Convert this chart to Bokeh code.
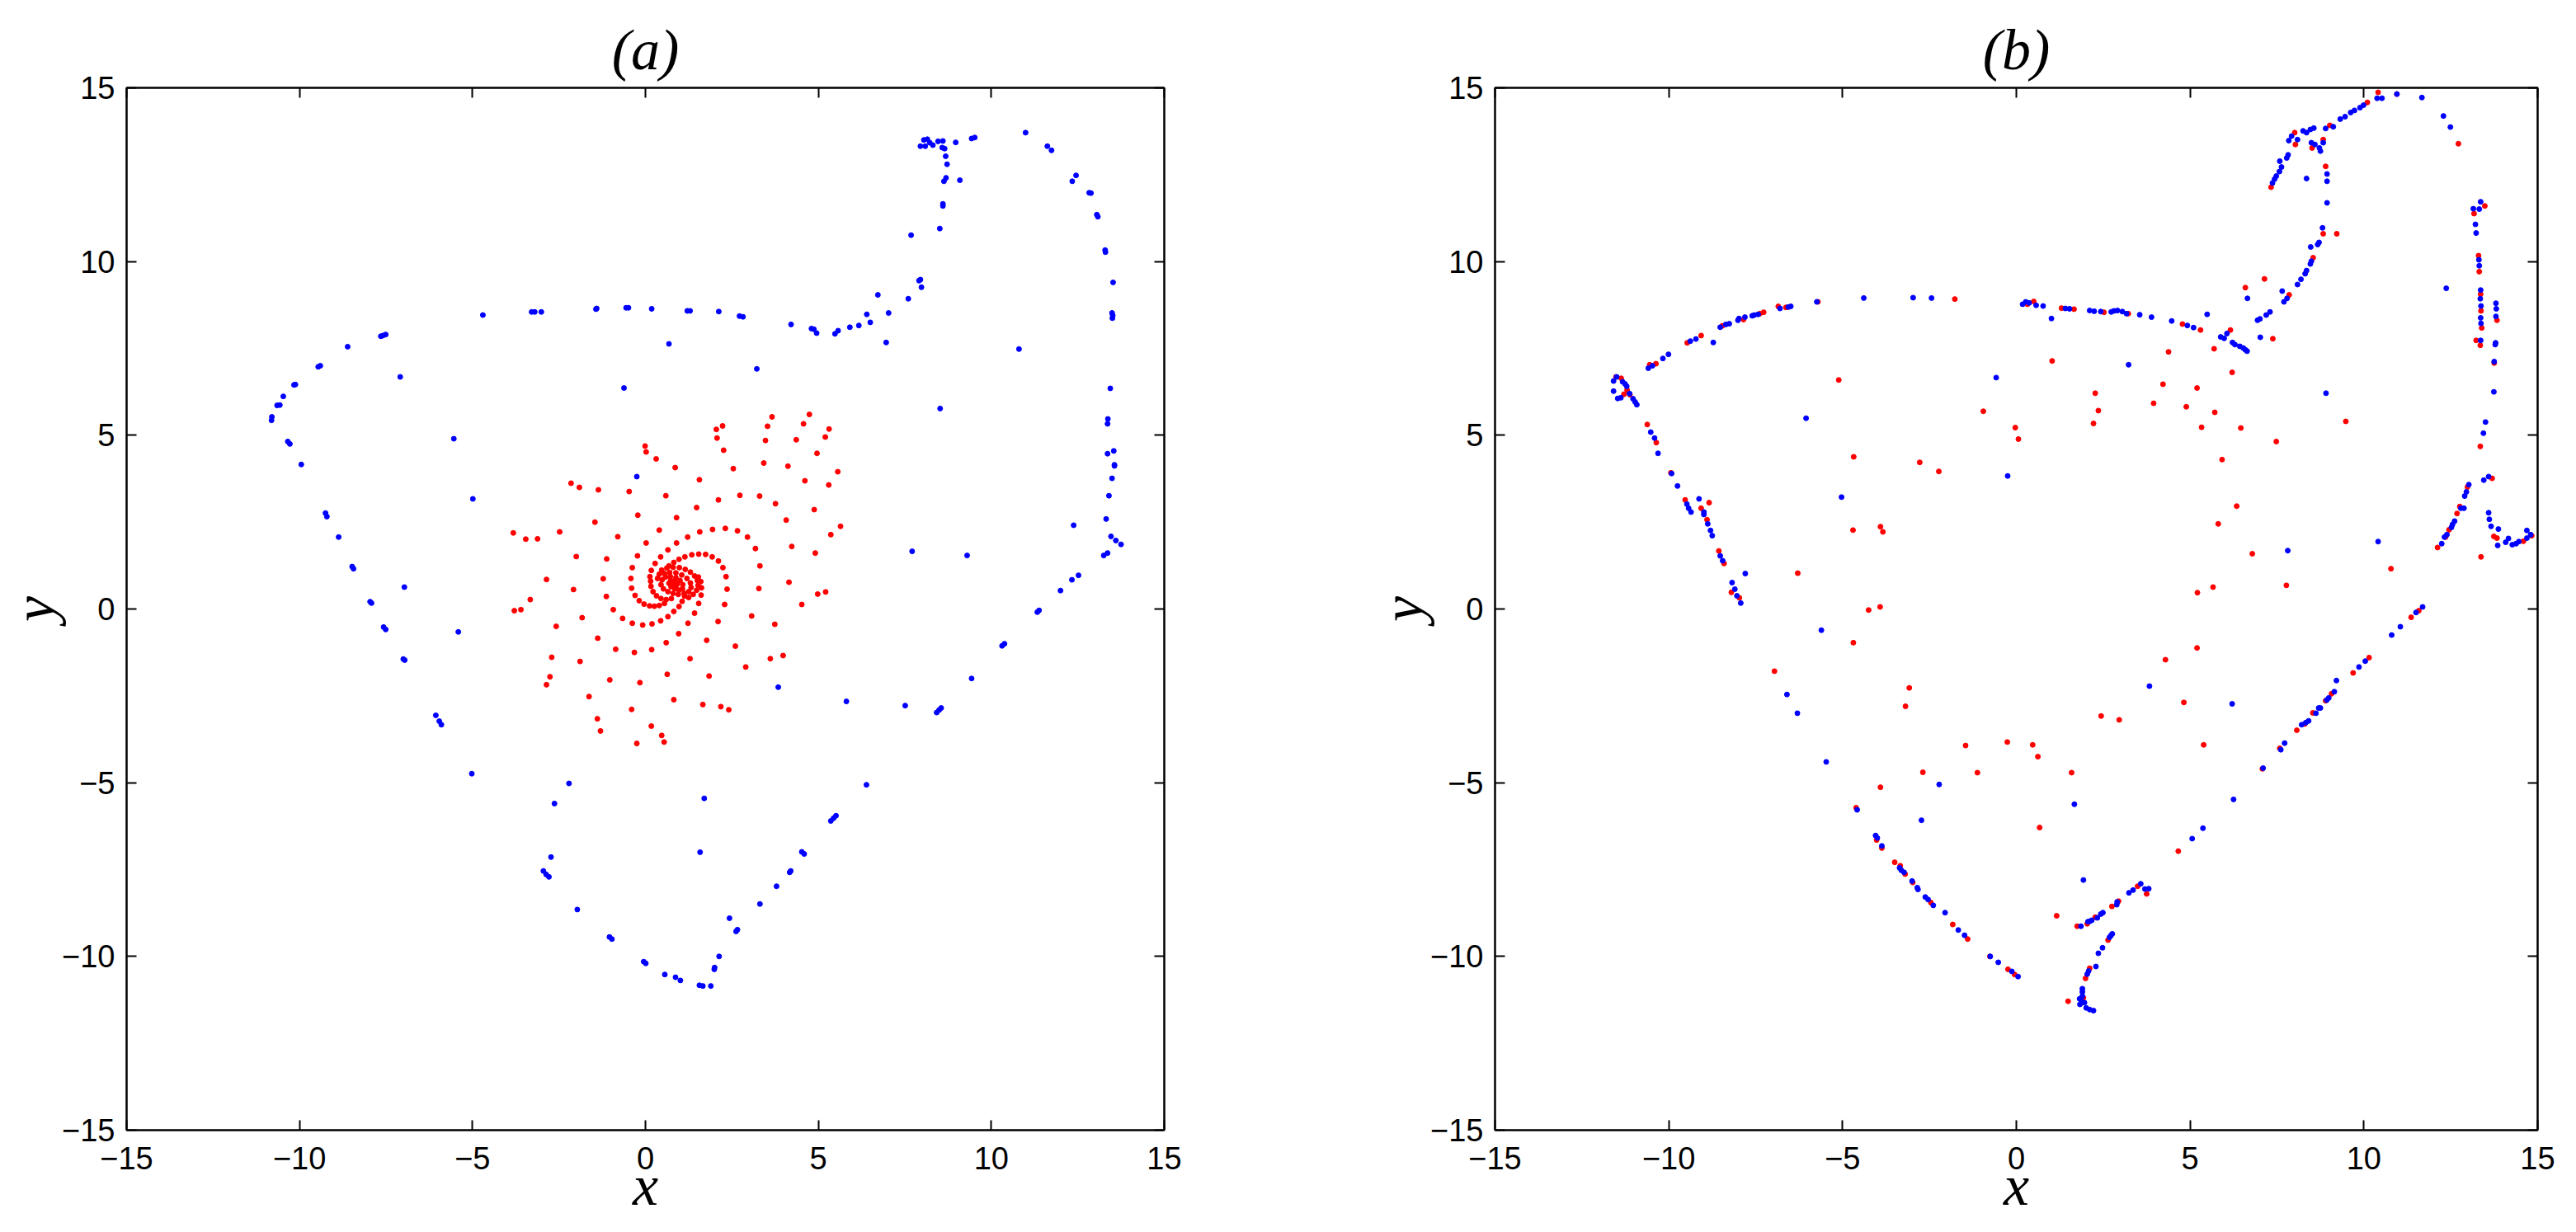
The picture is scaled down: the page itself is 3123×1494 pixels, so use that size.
from bokeh.plotting import figure
from bokeh.layouts import row
from bokeh.models import LinearAxis, FixedTicker
from bokeh.embed import file_html
from bokeh.resources import INLINE

ticks = [-15, -10, -5, 0, 5, 10, 15]
tick_labels = {t: (str(t).replace("-", "\u2212")) for t in ticks}
blank_labels = {t: "" for t in ticks}

# ---------------- panel (a) ----------------
a_blue_x = [-4.70, -3.29, -3.20, -3.01, -1.43, -1.41, -0.56, -0.49, 0.18,
            -7.65, -7.59, -7.51, -8.61, -9.46, -9.40, -10.16, -10.12, -10.47, -10.65, -10.57, -10.80, -10.81,
            -10.34, -10.28, -9.95, -7.09, -5.54, -4.99, -0.62, -0.25, -9.25, -9.21, -8.87, -8.48, -8.44, -6.97,
            -7.96, -7.92,
            -7.57, -7.51, -5.41, -7.00, -6.96, -6.06, -5.96, -5.90, -5.02, -2.21, -2.63, -2.73, -2.95, -2.87,
            -2.79, -1.97, -1.04, -0.97, -0.05, 0.01,
            0.68, 1.21, 1.29, 2.12, 2.72, 2.82, 3.22, 4.21, 4.80, 4.87, 4.95, 5.48, 5.57, 5.91, 6.17, 6.40, 6.50,
            6.72, 6.96, 7.03, 7.60, 7.68, 7.91, 7.95, 7.98, 8.51, 8.60, 8.60, 8.63, 8.69, 9.09, 8.68, 8.72,
            7.95, 8.09, 8.05, 8.15, 8.22, 8.31, 8.46, 8.60, 8.58, 8.65, 8.97, 9.43, 9.52, 10.99, 11.62, 11.74,
            12.45, 12.34, 12.83, 12.88, 13.05, 13.08, 13.29, 13.30, 13.52, 13.49, 13.51, 13.50, 10.80, 13.44,
            8.52, 13.37, 13.36, 13.36, 13.54, 13.56, 13.56, 13.49, 13.40, 13.32, 12.38, 13.46, 13.60, 13.75,
            13.25, 13.36, 7.71, 9.30, 12.52, 12.33, 12.00, 11.33, 11.38,
            10.31, 10.38, 9.43, 8.42, 8.49, 8.55, 7.51, 5.81, 3.84, 6.39, 5.36, 5.44, 5.51, 1.70, 1.58, 4.52,
            4.59, 4.17, 4.20, 3.79, 3.31, 2.43, 2.62, 2.66, 2.13, 1.99, 2.00, 0.56, 0.87, 1.01, 1.56, 1.66, 1.89]
a_blue_y = [8.46, 8.55, 8.55, 8.55, 8.63, 8.65, 8.67, 8.67, 8.64,
            7.85, 7.87, 7.90, 7.55, 6.97, 7.00, 6.45, 6.46, 6.12, 5.86, 5.87, 5.53, 5.43,
            4.82, 4.75, 4.16, 6.68, 4.90, 3.17, 6.36, 3.81, 2.76, 2.66, 2.07, 1.22, 1.16, 0.63,
            0.21, 0.17,
            -0.52, -0.59, -0.66, -1.44, -1.47, -3.06, -3.23, -3.33, -4.74, -5.02, -5.60, -7.14, -7.54, -7.64,
            -7.71, -8.65, -9.44, -9.50, -10.15, -10.20,
            7.63, 8.58, 8.58, 8.56, 8.43, 8.41, 6.91, 8.19, 8.07, 8.05, 7.94, 7.92, 8.01, 8.11, 8.16, 8.48, 8.25,
            9.04, 7.67, 8.52, 8.93, 10.76, 9.45, 9.48, 9.26, 10.95, 11.66, 11.60, 12.31, 12.41, 12.34, 13.03, 12.80,
            13.32, 13.32, 13.50, 13.52, 13.42, 13.35, 13.46, 13.47, 13.28, 13.25, 13.43, 13.54, 13.57, 13.71, 13.32, 13.20,
            12.48, 12.31, 11.98, 11.97, 11.35, 11.29, 10.33, 10.27, 9.40, 8.52, 8.45, 8.37, 7.48, 6.35,
            5.77, 5.47, 5.33, 4.47, 4.55, 4.15, 4.12, 3.76, 3.26, 2.59, 2.41, 2.09, 1.97, 1.86,
            1.54, 1.61, 1.66, 1.54, 0.97, 0.84, 0.53, -0.09, -0.04,
            -1.06, -1.00, -2.00, -2.98, -2.91, -2.85, -2.78, -2.66, -2.25, -5.06, -6.10, -6.02, -5.95, -5.45, -7.00, -6.99,
            -7.05, -7.58, -7.54, -7.98, -8.49, -8.90, -9.28, -9.23, -10.00, -10.37, -10.32, -10.52, -10.60, -10.69, -10.83, -10.85, -10.85]

a_red_x = [-3.82, -3.46, -3.12, -2.48, -2.15, -1.91, -1.36, -1.46, -0.80, -0.47, -0.22, -0.01, 0.02, 0.31, 0.86,
           0.59, 0.90, 0.40, 0.02, -2.00, -1.12, -0.23, -0.38, 0.65, 0.90, 1.22, 1.57, 1.94, 2.31, 2.66, 2.95,
           3.18, 3.31, 1.48, 1.56, 2.11, 2.54, 2.73, 3.30, 3.76, 4.07, 3.42, 4.12, 2.26, 2.05, 2.23, 2.07, 3.66,
           3.53, 3.47, 4.74, 4.57, 4.36, 5.31, 5.20, 4.96, 5.56, 4.61, 5.30, 4.88, 5.64, 5.36, 4.23, 4.91, 0.28,
           0.17, 0.13, -0.42, -1.22, -2.86, 0.44, 0.68, 0.82, 0.97, 1.14, 1.34, 1.54, 1.74, 1.93, 2.11, 2.24, 2.33,
           -2.08, -3.33, -3.79, -3.60, -1.13, -0.93, -1.83, -2.58, -0.40, -0.30, -0.18, -0.04, 0.12, 0.26, 0.40,
           0.55, -0.66, -0.38, -0.08, 0.19, 0.44, 0.65, 0.82, 0.97, 1.06, 1.13, 1.53, 1.60, 1.62, 1.61, 1.54, 1.42,
           1.23, 0.96, 0.60, 0.18, -0.32, -0.86, -1.38, 2.36, 2.29, 2.10, 1.77, 1.29, 0.63, -0.16, -1.03, -1.89,
           -2.71, -2.76, -2.86, -1.63, -1.39, -1.30, -0.40, -0.25, 0.17, 0.47, 0.54, 0.82, 1.66, 2.18, 2.41, 1.84,
           2.90, 2.60, 3.61, 3.98, 3.07, 3.74, 3.28, 4.15, 4.52, 4.98, 5.21,
           0.47, 0.62, 0.80, 0.98, 1.15, 1.30, 1.42, 1.50, 1.52, 1.48, 1.38, 1.25, 0.15, 0.16, 0.22, 0.32, 0.45,
           0.60, 0.75, 0.40, 0.35, 0.55, 0.70, 0.88, 1.05, 1.20, 1.30, 1.32, 1.25, 1.12, 0.95, 0.80, 0.65, 0.52,
           0.45, 0.48, 0.58, 0.72, 0.88, 1.00, 1.08, 1.07, 0.97, 0.85, 0.74, 0.68, 0.73, 0.84, 0.92, 0.88, 0.80]
a_red_y = [2.19, 2.01, 2.02, 2.22, 3.62, 3.50, 3.43, 2.50, 2.08, 3.38, 2.70, 4.69, 4.52, 4.32, 4.07,
           3.26, 2.63, 2.27, 1.90, 1.51, 1.44, 1.53, 1.19, 1.70, 1.90, 2.07, 2.22, 2.29, 2.32, 2.25, 2.07,
           1.74, 1.24, 2.92, 3.72, 3.14, 4.04, 3.27, 3.25, 3.03, 2.56, 4.20, 4.11, 4.57, 5.17, 5.27, 4.92, 5.53,
           5.26, 4.85, 5.60, 5.33, 4.87, 5.18, 4.95, 4.48, 3.95, 3.69, 3.57, 2.86, 2.38, 2.14, 1.80, 1.61, 1.31,
           1.11, 0.93, 0.88, 0.87, 0.85, 1.50, 1.24, 1.34, 1.43, 1.50, 1.56, 1.58, 1.57, 1.50, 1.38, 1.19, 0.93,
           0.56, 0.27, -0.05, -0.02, 0.36, -0.02, -0.25, -0.50, 0.60, 0.39, 0.24, 0.14, 0.09, 0.08, 0.10,
           0.16, -0.27, -0.41, -0.46, -0.43, -0.34, -0.22, -0.07, 0.07, 0.22, 0.37, 0.92, 0.79, 0.61, 0.40, 0.16, -0.12,
           -0.41, -0.71, -0.97, -1.17, -1.25, -1.16, -0.84, 0.57, 0.13, -0.36, -0.90, -1.43, -1.88, -2.12, -2.04, -1.51,
           -1.39, -1.95, -2.18, -2.52, -3.16, -3.51, -2.89, -3.87, -3.37, -3.64, -3.83, -2.61, -2.75, -2.81, -2.90, -1.93,
           -1.67, -1.07, -1.43, -1.34, -0.20, -0.44, 0.59, 0.77, 0.13, 0.43, 0.49,
           1.12, 1.18, 1.20, 1.19, 1.14, 1.06, 0.95, 0.82, 0.68, 0.54, 0.42, 0.33, 0.80, 0.65, 0.50, 0.38, 0.30,
           0.27, 0.30, 1.00, 0.88, 1.02, 1.05, 1.04, 0.98, 0.88, 0.75, 0.62, 0.50, 0.45, 0.42, 0.45, 0.50, 0.58,
           0.70, 0.84, 0.92, 0.93, 0.90, 0.82, 0.70, 0.58, 0.54, 0.58, 0.64, 0.74, 0.82, 0.80, 0.72, 0.65, 0.70]

# ---------------- panel (b) ----------------
b_blue_x = [-4.39, -2.97, -2.44, -5.74, -6.49, -6.56, -6.80, -7.43, -7.54, -7.60, -7.81, -8.01, -7.98, -8.26, -8.36,
            -8.52, -8.72, -9.22, -9.38, -10.01, -10.17, -10.47, -10.59, -11.59, -11.50, -11.59, -11.47, -11.38, -11.33,
            -11.26, -11.21, -11.13, -11.03, -10.97, -10.92, -10.52, -10.41, -10.31, -9.92, -9.75, -9.48, -9.43, -9.36,
            -9.13, -8.99, -8.99, -8.88, -8.80, -8.75, -8.52, -8.45, -8.18, -8.10, -8.04, -7.93, -7.80, -6.05, -5.03,
            0.18, 0.27, 0.37, 0.57, 0.77, 1.01, 1.41, 1.53, 2.11, 2.24, 2.43, 2.73, 2.81, 2.91, 3.05, 3.17, 3.55, 3.89,
            4.47, 4.92, 5.10, 5.49, 5.88, 5.98, 6.06, 6.22, 6.29, 6.43, 6.53, 6.59, 6.64, 6.65, 6.94, 7.01, 7.19, 7.30,
            7.02, 7.65, 7.70, 7.79, 8.09, 8.19, 8.31, 8.35, 8.46, 8.49, 8.47, 8.67, 8.71, 8.81, 8.94, 8.94, 8.94, 8.35,
            7.37, 7.43, 7.48, 7.57, 7.63, 7.58, 7.78, 7.82, 7.84, 7.92, 8.09, 8.25, 8.35, 8.46, 8.56, 8.49, 8.59, 8.72,
            8.75, 8.83, 8.90, 9.12, 9.32, 9.46, 9.62, 9.73, 9.89, 9.99, 10.38, 10.52, 10.95, 11.67, 12.29, 12.49, 13.15,
            13.32, 13.36, 13.21, 13.23, 13.31, 13.32, 13.36, 13.35, 13.37, 13.36, 13.37, 13.36, 13.80, 13.81, 13.80,
            13.79, 13.78, 13.75, 13.74, 12.37, 8.91, 13.50, 13.44, 13.45, 13.59, 13.02, 12.95, 12.90, 12.79, 12.88,
            12.61, 12.55, 12.52, 12.39, 12.32, 12.24, 13.59, 13.61, 13.66, 13.87, 13.85, 14.08, 14.16, 14.27, 14.38,
            14.46, 14.69, 14.69, 14.80, 10.41, 7.81, 3.23, -0.58, -0.25, 11.69, 11.50,
            -5.61, -6.60, -6.30, -5.47, -2.22, -2.73, -4.58, -4.05, -4.00, -3.87, -3.36, -3.31, -3.23, -3.00, -2.85,
            -2.83, -2.62, -2.54, -2.39, -2.05, -1.67, -1.49,
            11.05, 10.80, 10.04, 9.86, 9.21, 9.15, 8.99, 8.93, 8.75, 8.70, 8.62, 8.41, 8.33, 8.21, 7.72, 7.61, 7.10,
            6.21, 6.25, 5.37, 5.06, 3.83, 1.67, 1.93, 3.81, 3.70, 3.58, 3.36, 3.24, 2.89, 2.90, 2.49, 2.43, 2.33, 2.17,
            2.11, 2.06, 1.86, 2.76, 2.72, 2.68, 2.48, 2.36, 2.29, 2.08, 2.04, 1.90, 1.90, 1.90, 1.82, 1.88, 1.83, 1.96,
            2.01, 2.11, 2.22, -0.75, -0.52, -0.13, 0.05]
b_blue_y = [8.95, 8.96, 8.95, 8.84, 8.71, 8.69, 8.65, 8.48, 8.46, 8.44, 8.40, 8.31, 8.36, 8.21, 8.19,
            8.11, 7.67, 7.77, 7.71, 7.33, 7.21, 7.00, 6.93, 6.56, 6.68, 6.27, 6.06, 6.08, 6.54,
            6.48, 6.41, 6.20, 6.05, 5.96, 5.88, 5.09, 4.92, 4.48, 3.90, 3.54, 3.02, 2.90, 2.79,
            3.17, 2.79, 2.72, 2.45, 2.26, 2.11, 1.53, 1.39, 0.76, 0.57, 0.38, 0.17, 1.02, 5.49, 3.22,
            8.77, 8.84, 8.81, 8.74, 8.72, 8.36, 8.65, 8.64, 8.59, 8.57, 8.56, 8.55, 8.58, 8.59, 8.56, 8.50, 8.47, 8.40,
            8.29, 8.16, 8.10, 8.48, 7.83, 7.79, 7.93, 7.67, 7.61, 7.56, 7.51, 7.46, 7.42, 8.94, 8.31, 8.35, 8.46, 8.55,
            7.82, 9.15, 8.84, 8.94, 9.34, 9.49, 9.65, 9.74, 9.93, 10.01, 10.42, 10.49, 10.55, 10.97, 11.69, 12.31, 12.52, 12.39,
            12.26, 12.37, 12.46, 12.59, 12.72, 12.89, 12.98, 13.07, 13.48, 13.61, 13.51, 13.76, 13.71, 13.80, 13.84, 13.42, 13.37, 13.27,
            13.18, 13.42, 13.83, 13.88, 14.10, 14.17, 14.29, 14.35, 14.43, 14.50, 14.70, 14.70, 14.82, 14.72, 14.19, 13.87, 11.52,
            11.51, 11.72, 11.07, 10.82, 10.05, 9.88, 9.18, 8.93, 8.72, 8.38, 8.22, 7.73, 8.80, 8.64, 8.42,
            7.66, 7.61, 7.12, 6.25, 9.23, 6.21, 5.38, 5.06, 3.71, 3.81, 3.58, 3.37, 3.25, 2.90, 2.90,
            2.53, 2.43, 2.35, 2.14, 2.07, 1.88, 2.77, 2.58, 2.38, 2.30, 1.83, 1.92, 2.03, 1.85, 1.88,
            1.94, 2.04, 2.26, 2.14, 1.94, 1.68, 7.03, 6.66, 3.83, 0.06, -0.10,
            -0.61, -2.46, -3.00, -4.40, -5.05, -6.08, -5.78, -6.52, -6.59, -6.82, -7.45, -7.52, -7.58, -7.83, -8.02,
            -8.07, -8.29, -8.36, -8.53, -8.74, -9.24, -9.39,
            -0.51, -0.75, -1.50, -1.67, -2.06, -2.38, -2.56, -2.62, -2.85, -2.85, -3.00, -3.22, -3.27, -3.33, -3.86, -4.05, -4.58,
            -2.73, -5.48, -6.31, -6.61, -2.22, -5.62, -7.80, -8.05, -8.06, -7.91, -8.09, -8.17, -8.51, -8.43, -8.74, -8.78, -8.89, -8.96,
            -8.99, -9.00, -9.13, -9.35, -9.40, -9.45, -9.75, -9.91, -10.29, -10.42, -10.51, -10.93, -11.02, -11.14, -11.22, -11.29, -11.38, -11.33,
            -11.48, -11.53, -11.56, -10.00, -10.17, -10.43, -10.58]

b_red_x = [-1.77, -5.71, -6.85, -6.63, -7.27, -7.38, -7.85, -8.46, -9.07, -9.47, -10.37, -10.55, -11.52, -11.37,
           -11.29, -11.20, -11.12, -10.62, -10.36, -9.94, -9.53, -8.84, -9.07, -8.90, -8.56, -8.41, -8.20, -7.97,
           -5.11, -6.29, -4.68, -2.78, -2.23, -4.70, -3.91, -3.84, -4.25, -3.92,
           0.50, 0.32, 1.30, 1.66, 2.52, 3.22, 4.78, 5.30, 6.16, 6.59, 7.14, 7.38, 7.85, 8.54, 8.83, 9.22, 8.90,
           8.83, 7.33, 8.01, 8.03, 8.51, 9.02, 10.10, 10.41, 10.95, 12.72, 13.17, 13.48, 13.30, 13.32, 13.36, 13.37,
           13.39, 13.23, 13.35, 13.83, 13.75, 13.35, 13.69, 12.98, 12.76, 12.68, 12.45, 12.35, 12.12, 13.37, 13.74,
           13.83, 14.59, 14.83, 10.78, 7.77, 5.21, 5.66, 6.79, 5.81, 6.34, 7.48, 9.48, 5.92, 6.46, 5.33, 5.71, 4.89,
           5.20, 6.21, 5.69, 4.22, 3.95, 4.38, 2.27, 2.36, 2.22, 1.03, -0.03, 0.06, -0.95,
           -4.69, -6.96, -3.08, -3.19, -1.46, -2.69, -3.91, -4.61, -4.02, -3.87, -3.50, -3.34, -3.20, -2.98, -2.46,
           -1.83, -1.40,
           -0.26, 0.47, 0.62, -1.12, 1.59, 0.67, 2.44, 2.96, 4.29, 5.20, 4.82, 5.39, 4.66, 7.08, 7.58, 8.07, 8.30,
           8.53, 8.90, 9.07, 9.69, 10.15, 11.36, 11.58, 1.16, 1.75, 2.04, 2.27, 2.75, 2.94, 3.49, 3.75, 2.64, 2.11,
           1.99, 1.49, 1.93, -0.24, -0.05, -0.76]
b_red_y = [8.92, 8.84, 8.71, 8.68, 8.54, 8.50, 8.33, 8.15, 7.87, 7.66, 7.06, 7.03, 6.68, 6.64,
           6.18, 6.30, 6.17, 5.31, 4.79, 3.92, 3.14, 3.06, 2.90, 2.57, 1.67, 1.31, 0.48, 0.32,
           6.59, 1.03, 4.38, 4.22, 3.96, 2.27, 2.37, 2.22, -0.03, 0.06,
           8.85, 8.77, 8.66, 8.63, 8.54, 8.50, 8.20, 8.03, 8.03, 9.25, 9.50, 7.78, 9.04, 10.11, 10.80, 10.80, 12.74,
           13.51, 12.14, 13.71, 13.37, 13.27, 13.92, 14.58, 14.87, 14.82, 13.39, 11.38, 11.60, 10.17, 9.71, 9.06, 8.58,
           8.09, 7.73, 7.59, 8.31, 7.08, 4.68, 3.76, 3.51, 2.95, 2.75, 2.28, 2.07, 1.77, 1.50, 2.09,
           2.04, 1.95, 2.11, 1.16, 0.68, 0.47, 0.63, 1.59, 2.45, 2.96, 4.82, 5.40, 4.30, 5.21, 5.23, 5.66, 5.82,
           6.36, 6.81, 7.49, 6.47, 5.92, 7.40, 6.21, 5.71, 5.34, 7.14, 5.22, 4.89, 5.69,
           -0.97, -1.79, -2.27, -2.80, -3.93, -4.70, -5.13, -5.72, -6.65, -6.88, -7.29, -7.39, -7.63, -7.87, -8.45,
           -9.08, -9.50,
           -3.83, -3.91, -4.25, -4.71, -4.71, -6.29, -3.08, -3.19, -1.46, -1.12, -2.69, -3.91, -6.97, -4.60, -4.01, -3.49, -3.31,
           -2.99, -2.64, -2.44, -1.84, -1.40, -0.24, -0.05, -8.83, -9.13, -9.06, -8.87, -8.56, -8.41, -7.98, -8.20, -9.53, -10.34,
           -10.63, -11.29, -11.19, -10.37, -10.52, -10.00]

FRAME = 1264


def make_panel(title, left, right, top, bottom):
    p = figure(width=left + FRAME + right, height=top + FRAME + bottom,
               x_range=(-15, 15), y_range=(-15, 15),
               output_backend="svg", toolbar_location=None,
               min_border_left=left, min_border_right=right,
               min_border_top=top, min_border_bottom=bottom,
               title=title)
    p.title.align = "center"
    p.title.text_font = "Liberation Serif"
    p.title.text_font_style = "italic"
    p.title.text_font_size = "70px"
    p.title.text_color = "black"
    p.title.standoff = 16
    p.xgrid.visible = False
    p.ygrid.visible = False
    p.outline_line_color = "black"
    p.outline_line_width = 2
    p.background_fill_color = "white"
    p.border_fill_color = "white"
    p.add_layout(LinearAxis(), "above")
    p.add_layout(LinearAxis(), "right")
    for ax in p.axis:
        ax.ticker = FixedTicker(ticks=ticks)
        ax.major_tick_in = 12
        ax.major_tick_out = 0
        ax.minor_tick_in = 0
        ax.minor_tick_out = 0
        ax.axis_line_width = 2
        ax.major_tick_line_width = 2
        ax.axis_line_color = "black"
        ax.major_tick_line_color = "black"
        ax.major_label_overrides = tick_labels
        ax.major_label_text_font = "Liberation Sans"
        ax.major_label_text_font_size = "38px"
        ax.major_label_text_color = "black"
    for ax in (p.above[0], p.right[0]):
        ax.major_label_overrides = blank_labels
        ax.major_label_standoff = 0
    xa = p.below[0]
    ya = p.left[0]
    xa.axis_label = "x"
    ya.axis_label = "y"
    for ax in (xa, ya):
        ax.axis_label_text_font = "Liberation Serif"
        ax.axis_label_text_font_style = "italic"
        ax.axis_label_text_font_size = "70px"
        ax.axis_label_text_color = "black"
    xa.axis_label_text_line_height = 0.8
    xa.major_label_standoff = 20
    xa.axis_label_standoff = -22
    ya.major_label_standoff = 14
    ya.axis_label_standoff = -8
    return p


pa = make_panel("(a)", 147, 60, 106, 116)
pa.scatter(a_blue_x, a_blue_y, size=6, color="#0000ff")
pa.scatter(a_red_x, a_red_y, size=6, color="#ff0000")

pb = make_panel("(b)", 341, 30, 106, 116)
pb.scatter(b_red_x, b_red_y, size=6, color="#ff0000")
pb.scatter(b_blue_x, b_blue_y, size=6, color="#0000ff")

layout = row(pa, pb, spacing=0)
open("out.html", "w").write(file_html(layout, INLINE))
